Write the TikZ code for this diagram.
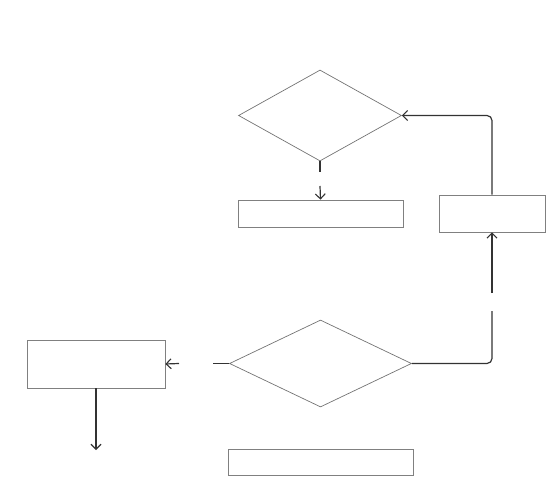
\documentclass[tikz,border=0pt]{standalone}
\usetikzlibrary{shapes.geometric,arrows.meta}
\begin{document}
\begin{tikzpicture}[x=1pt,y=-1pt,
  boxnode/.style={draw=black!50,line width=0.8pt,rectangle,inner sep=0pt},
  decnode/.style={draw=black!55,line width=0.7pt,diamond,inner sep=0pt},
  conn/.style={draw=black!80,line width=1.2pt},
  arr/.style={conn,-{Straight Barb[length=5pt,width=10pt,line width=1.1pt]}}]
\useasboundingbox (0,0) rectangle (546,489);
\node[decnode,minimum width=163pt,minimum height=91pt] (d1) at (320,115.5) {};
\node[boxnode,minimum width=165pt,minimum height=27pt] (b1) at (320.5,213.5) {};
\node[boxnode,minimum width=106pt,minimum height=37pt] (b2) at (492,213.5) {};
\node[decnode,minimum width=182pt,minimum height=87pt] (d2) at (320.5,363.5) {};
\node[boxnode,minimum width=138pt,minimum height=48pt] (b3) at (96,364) {};
\node[boxnode,minimum width=185pt,minimum height=26pt] (b4) at (320.5,462) {};
\coordinate (g1a) at (320,172);
\coordinate (g1b) at (320,186);
\coordinate (g2a) at (492,311);
\coordinate (g2b) at (492,293);
\coordinate (g3a) at (213,363.5);
\coordinate (g3b) at (179,363.5);
\coordinate (e1) at (96,450);
\draw[conn] (d1.south) -- (g1a);
\draw[arr] (g1b) -- (b1.north);
\draw[conn,rounded corners=5pt] (d2.east) -| (g2a);
\draw[arr] (g2b) -- (b2.south);
\draw[arr,rounded corners=5pt] (b2.north) |- (d1.east);
\draw[conn] (d2.west) -- (g3a);
\draw[arr] (g3b) -- (b3.east);
\draw[arr] (b3.south) -- (e1);
\end{tikzpicture}
\end{document}
